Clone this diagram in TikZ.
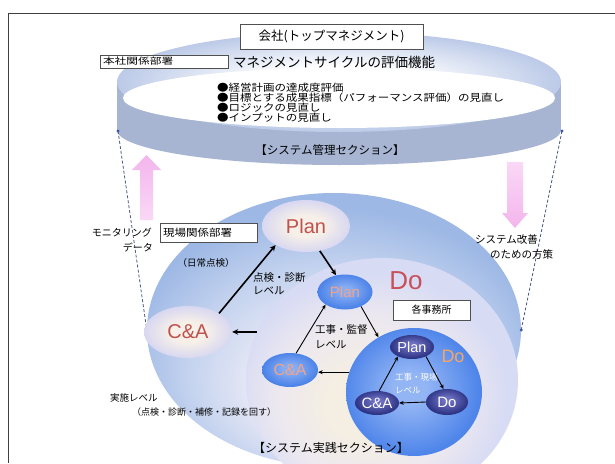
\documentclass[tikz,border=0pt]{standalone}
\usepackage{fontspec}
\usepackage{graphicx}
\setmainfont{Noto Sans CJK JP}
\newfontfamily\lat{Liberation Sans}
\usetikzlibrary{shapes.geometric,arrows.meta,shadows}
\definecolor{framec}{HTML}{404040}
\definecolor{bandc}{HTML}{A7B5D3}
\definecolor{ringA}{HTML}{FFFFFF}
\definecolor{ringB}{HTML}{BCCAE8}
\definecolor{bigA}{HTML}{F2EFF8}
\definecolor{bigB}{HTML}{C6D4EF}
\definecolor{bigC}{HTML}{9DB8E5}
\definecolor{midA}{HTML}{F4EEE3}
\definecolor{midB}{HTML}{ECE8F0}
\definecolor{midC}{HTML}{D7DBF4}
\definecolor{innA}{HTML}{93B5F4}
\definecolor{innB}{HTML}{4F85EA}
\definecolor{paleA}{HTML}{F7F0E8}
\definecolor{paleB}{HTML}{D8D7F1}
\definecolor{bluA}{HTML}{86ACF3}
\definecolor{bluB}{HTML}{4A82E8}
\definecolor{navA}{HTML}{6E70C2}
\definecolor{navB}{HTML}{2E3485}
\definecolor{redT}{HTML}{C0504D}
\definecolor{salT}{HTML}{EFA48C}
\definecolor{orgT}{HTML}{F2A865}
\definecolor{doT}{HTML}{C8505A}
\definecolor{pinkA}{HTML}{F3B5EC}
\definecolor{pinkB}{HTML}{FAD8F6}
\definecolor{dashc}{HTML}{4A5A80}
\definecolor{dotc}{HTML}{3A5AA8}
\definecolor{boxl}{HTML}{505050}
\definecolor{shadc}{HTML}{8C8C8C}
\pgfdeclareradialshading{ringsh}{\pgfpoint{0bp}{0bp}}{color(0bp)=(ringA); color(8bp)=(ringA); color(25bp)=(ringB); color(50bp)=(ringB)}
\pgfdeclareradialshading{bigsh}{\pgfpoint{0bp}{-13bp}}{color(0bp)=(bigA); color(8bp)=(bigA); color(19bp)=(bigB); color(28bp)=(bigC); color(50bp)=(bigC)}
\pgfdeclareradialshading{midsh}{\pgfpoint{-4bp}{-6bp}}{color(0bp)=(midA); color(7bp)=(midA); color(17bp)=(midB); color(25bp)=(midC); color(50bp)=(midC)}
\pgfdeclareradialshading{innsh}{\pgfpoint{-2bp}{1.5bp}}{color(0bp)=(innA); color(6bp)=(innA); color(25bp)=(innB); color(50bp)=(innB)}
\pgfdeclareradialshading{palesh}{\pgfpoint{0bp}{0bp}}{color(0bp)=(paleA); color(10bp)=(paleA); color(25bp)=(paleB); color(50bp)=(paleB)}
\pgfdeclareradialshading{blush}{\pgfpoint{0bp}{2.5bp}}{color(0bp)=(bluA); color(6bp)=(bluA); color(25bp)=(bluB); color(50bp)=(bluB)}
\pgfdeclareradialshading{navsh}{\pgfpoint{0bp}{5bp}}{color(0bp)=(navA); color(5bp)=(navA); color(25bp)=(navB); color(50bp)=(navB)}
\tikzset{
  lbl/.style={inner sep=0pt, font=\fontsize{10}{10}\selectfont},
  bigell/.style={ellipse, shade, shading=palesh, inner sep=0pt, minimum width=88, minimum height=52, text=redT, font=\lat\fontsize{20}{20}\selectfont},
  midell/.style={ellipse, shade, shading=blush, inner sep=0pt, minimum width=55, minimum height=35, text=salT, font=\lat\fontsize{15}{15}\selectfont},
  innell/.style={ellipse, shade, shading=navsh, inner sep=0pt, minimum width=44, minimum height=24, text=white, font=\lat\fontsize{14.5}{14.5}\selectfont},
  thickarr/.style={line width=1.6pt, -{Stealth[length=6pt,width=5.5pt]}},
  thinarr/.style={line width=0.9pt, -{Stealth[length=4.5pt,width=4pt]}},
  boxn/.style={draw=boxl, fill=white, line width=0.6pt, inner sep=0pt, drop shadow={shadow xshift=1.2pt, shadow yshift=-1.2pt, fill=shadc, opacity=0.8}},
  dashl/.style={dashc, line width=0.8pt, dash pattern=on 3pt off 2pt},
}
\begin{document}
\begin{tikzpicture}[x=1pt,y=-1pt]
\useasboundingbox (0,0) rectangle (615,463);
\clip (0,0) rectangle (615,463);
\fill[white] (0,0) rectangle (615,463);
% frame
\draw[framec, line width=1pt] (8,463) -- (8,13) -- (615,13);

% top ring (management section)
\fill[bandc] (117,82) rectangle (561,130);
\fill[bandc] (339,130) ellipse [x radius=222, y radius=35];
\shade[shading=ringsh] (339,82) ellipse [x radius=222, y radius=50];
\fill[white] (339,98) ellipse [x radius=216, y radius=30];

% lower section ellipses
\node[ellipse, shade, shading=bigsh, inner sep=0pt, minimum width=374, minimum height=274] (big) at (334,330) {};
\node[ellipse, shade, shading=midsh, inner sep=0pt, minimum width=272, minimum height=244] (mid) at (382,380) {};
\node[ellipse, shade, shading=innsh, inner sep=0pt, minimum width=136, minimum height=128] (inner) at (414,392) {};

% dashed connectors
\coordinate (L1) at (118,131);
\coordinate (R1) at (562,131);
\draw[dashl] (L1) -- (big.west);
\draw[dashl] (R1) -- (big.east);
\fill[dotc] (L1) circle (1.6);
\fill[dotc] (R1) circle (1.6);
\fill[dotc] (big.west) circle (1.6);
\fill[dotc] (big.east) circle (1.6);

% pink arrows
\shade[top color=pinkA, bottom color=pinkB] (140,220) -- (140,170) -- (132,170) -- (146.5,155) -- (161,170) -- (153,170) -- (153,220) -- cycle;
\shade[top color=pinkB, bottom color=pinkA] (507,162) -- (523,162) -- (523,213) -- (528,213) -- (515,228) -- (502,213) -- (507,213) -- cycle;

% top texts
\node[boxn, minimum width=183, minimum height=25, font=\fontsize{12.5}{13}\selectfont] (top) at (331.5,36.5) {会社(トップマネジメント)};
\node[boxn, minimum width=128, minimum height=13, text width=122, align=left, font=\fontsize{9}{9}\selectfont] (hq) at (164,61.5) {\scalebox{1.3}[1]{本社関係部署}};
\node[lbl, anchor=west, font=\fontsize{13.5}{14}\selectfont] (evalf) at (233,62) {マネジメントサイクルの評価機能};
\node[lbl, anchor=west] (b1) at (217,88) {\scalebox{1.15}[1]{●経営計画の達成度評価}};
\node[lbl, anchor=west] (b2) at (217,98) {\scalebox{1.15}[1]{●目標とする成果指標（パフォーマンス評価）の見直し}};
\node[lbl, anchor=west] (b3) at (217,108) {\scalebox{1.15}[1]{●ロジックの見直し}};
\node[lbl, anchor=west] (b4) at (217,118) {\scalebox{1.15}[1]{●インプットの見直し}};
\node[lbl, font=\fontsize{11.5}{12}\selectfont] (mgmt) at (330,150) {【システム管理セクション】};

% side labels
\node[lbl, anchor=east] (mon1) at (152,233) {モニタリング};
\node[lbl, anchor=east] (mon2) at (153,248) {データ};
\node[lbl, anchor=west, font=\fontsize{10.5}{10.5}\selectfont] (sys1) at (475,240) {システム改善};
\node[lbl, anchor=west, font=\fontsize{10.5}{10.5}\selectfont] (sys2) at (490,255) {のための方策};

% boxes in practice section
\node[boxn, minimum width=97, minimum height=19, text width=91, align=left, font=\fontsize{10}{10}\selectfont] (genba) at (208.5,232.5) {\scalebox{1.15}[1]{現場関係部署}};
\node[boxn, minimum width=77, minimum height=20, font=\fontsize{10}{10}\selectfont] (office) at (431.5,310) {各事務所};

% cycle nodes
\node[bigell] (PlanA) at (306,226) {Plan};
\node[bigell] (CAA) at (188,332) {C\&A};
\node[midell] (PlanB) at (345,292) {Plan};
\node[midell, minimum width=56, minimum height=34, font=\lat\fontsize{16}{16}\selectfont] (CAB) at (290,370) {C\&A};
\node[innell] (PlanC) at (412,347) {Plan};
\node[innell, font=\lat\fontsize{15}{15}\selectfont] (CAC) at (377,403) {C\&A};
\node[innell, minimum width=42, minimum height=26, font=\lat\fontsize{15}{15}\selectfont] (DoC) at (447,402) {Do};
\node[inner sep=0pt, text=doT, font=\lat\fontsize{26}{26}\selectfont] (DoB) at (406,281) {Do};
\node[inner sep=0pt, text=orgT, font=\lat\fontsize{18}{18}\selectfont] (DoS) at (453,356) {Do};

% level labels
\node[lbl, font=\fontsize{9.5}{9.5}\selectfont] (daily) at (206,263) {（日常点検）};
\node[lbl, anchor=west, font=\fontsize{10.5}{10.5}\selectfont] (tl1) at (253,278) {点検・診断};
\node[lbl, anchor=west, font=\fontsize{10.5}{10.5}\selectfont] (tl2) at (253,291) {レベル};
\node[lbl, anchor=west, font=\fontsize{10.5}{10.5}\selectfont] (kl1) at (315,330) {工事・監督};
\node[lbl, anchor=west, font=\fontsize{10.5}{10.5}\selectfont] (kl2) at (315,345) {レベル};
\node[lbl, anchor=west, text=white, font=\fontsize{8.5}{8.5}\selectfont] (gl1) at (395,377) {工事・現場};
\node[lbl, anchor=west, text=white, font=\fontsize{8.5}{8.5}\selectfont] (gl2) at (395,390) {レベル};
\node[lbl, anchor=west, font=\fontsize{9.5}{9.5}\selectfont] (imp1) at (110,398) {実施レベル};
\node[lbl, anchor=west, font=\fontsize{9}{9}\selectfont] (imp2) at (132,412) {（点検・診断・補修・記録を回す）};
\node[lbl, font=\fontsize{12}{12}\selectfont] (prac) at (331,448) {【システム実践セクション】};

% arrows
\draw[thickarr] (CAA.31) -- (PlanA.212);
\draw[thickarr] (PlanA.299) -- (PlanB.118);
\draw[thickarr] (mid.159) -- (mid.159 -| CAA.east);
\draw[thinarr] (CAB.70) -- (PlanB.213);
\draw[thinarr] (PlanB.318) -- (inner.123);
\draw[thinarr] (inner.163) -- (inner.163 -| CAB.east);
\draw[thinarr] (PlanC.326) -- (DoC.105);
\draw[thinarr] (DoC.west) -- (CAC.east);
\draw[thinarr] (CAC.80) -- (PlanC.214);
\end{tikzpicture}
\end{document}
